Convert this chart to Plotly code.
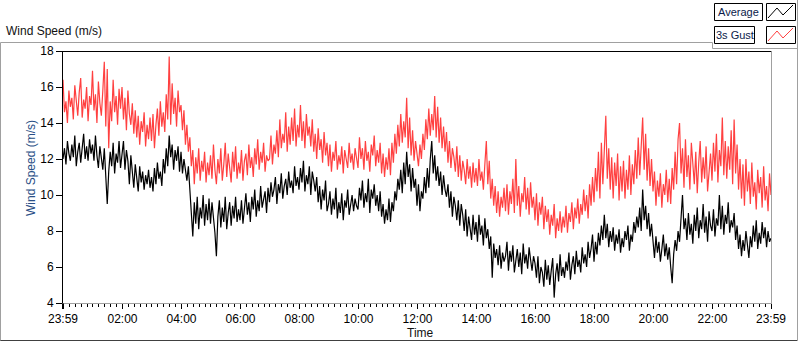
import plotly.graph_objects as go

# ---------------- data (3-minute samples) ----------------
step_minutes = 3
average = [
    12.0, 12.6, 11.7, 13.0, 12.3, 11.9, 12.8, 12.1, 13.3, 11.6, 12.4, 12.9, 11.8, 12.5, 13.4, 12.0, 12.7, 11.9, 13.1, 12.3,
    12.8, 11.9, 13.3, 12.2, 11.5, 12.7, 12.0, 11.4, 12.6, 11.1, 9.5, 11.3, 12.4, 11.6, 12.9, 11.2, 12.3, 11.8, 13.0, 11.5,
    12.2, 13.0, 11.4, 12.5, 11.9, 10.6, 12.2, 11.0, 10.4, 11.7, 10.9, 10.2, 11.6, 10.7, 11.3, 10.3, 11.1, 10.6, 11.4, 10.4,
    11.0, 10.2, 11.5, 10.6, 11.8, 10.9, 11.3, 10.5, 12.0, 11.2, 12.6, 11.6, 13.3, 12.1, 12.8, 11.4, 12.5, 11.9, 12.7, 11.3,
    12.4, 11.2, 12.0, 11.5, 10.8, 11.6, 10.1, 9.2, 7.7, 9.6, 8.4, 9.9, 8.1, 9.3, 8.7, 10.0, 8.3, 9.5, 8.6, 9.8,
    8.4, 9.6, 8.9, 7.9, 6.6, 8.8, 9.7, 8.2, 9.3, 8.5, 9.9, 8.1, 9.0, 9.6, 8.3, 9.4, 8.7, 9.9, 8.5, 9.2,
    8.6, 9.7, 8.4, 9.3, 10.1, 8.9, 9.6, 8.5, 9.9, 9.2, 10.3, 8.8, 9.7, 9.1, 10.5, 9.3, 9.8, 10.2, 9.0, 10.4,
    9.6, 10.7, 9.9, 10.3, 11.0, 9.5, 10.6, 10.1, 11.2, 9.8, 10.5, 10.9, 10.0, 11.3, 10.4, 10.8, 10.1, 11.6, 10.5, 11.0,
    10.3, 11.5, 10.7, 11.9, 10.2, 11.1, 10.6, 11.6, 10.0, 11.3, 10.8, 10.2, 11.0, 9.6, 10.5, 9.2, 10.3, 9.7, 10.8, 9.1,
    9.5, 10.2, 8.9, 9.8, 9.2, 10.4, 8.7, 9.6, 9.0, 10.1, 8.6, 9.7, 9.3, 10.3, 8.9, 9.5, 10.0, 9.1, 9.8, 9.4,
    9.2, 10.4, 9.7, 10.8, 9.3, 10.1, 9.6, 10.9, 9.0, 10.3, 9.8, 10.6, 9.4, 10.0, 9.1, 10.2, 8.8, 9.5, 8.4, 9.2,
    8.6, 9.8, 8.5, 9.6, 9.1, 10.2, 9.7, 10.9, 10.3, 11.4, 10.1, 11.8, 10.6, 12.4, 11.0, 11.7, 10.2, 11.5, 10.4, 10.9,
    9.4, 10.6, 9.1, 10.2, 9.8, 11.0, 10.1, 11.5, 10.4, 12.0, 13.0, 11.2, 12.2, 10.8, 11.6, 10.5, 11.3, 10.0, 11.1, 10.3,
    9.9, 10.6, 9.3, 10.2, 8.8, 9.9, 9.4, 8.6, 9.7, 8.3, 9.5, 8.9, 8.0, 9.2, 7.7, 8.8, 8.2, 7.5, 8.9, 7.8,
    8.5, 7.4, 8.9, 7.8, 8.3, 7.2, 8.7, 7.6, 8.1, 7.0, 7.7, 5.4, 7.3, 6.5, 7.0, 6.1, 7.2, 5.9, 6.8, 6.3,
    6.6, 7.4, 5.8, 6.9, 6.3, 7.2, 5.7, 6.5, 7.0, 6.0, 6.8, 5.6, 7.3, 6.2, 6.7, 5.9, 7.1, 6.4, 5.8, 6.6,
    6.2, 5.4, 6.6, 5.1, 6.0, 5.7, 4.9, 6.4, 5.3, 6.1, 5.0, 5.8, 6.5, 4.3, 5.6, 6.2, 5.2, 6.7, 5.5, 6.0,
    5.4, 6.3, 5.8, 6.8, 5.3, 6.1, 6.6, 5.6, 6.9, 6.0, 6.4, 5.7, 7.1, 6.2, 6.7, 6.0, 7.4, 6.5, 7.0, 7.8,
    6.3, 7.4, 6.7, 7.9, 7.2, 8.3, 7.5, 8.9, 7.6, 8.4, 7.1, 8.0, 7.4, 8.2, 6.9, 7.8, 7.3, 8.1, 6.8, 7.6,
    7.1, 8.0, 7.5, 8.3, 6.9, 7.8, 7.4, 8.5, 7.9, 8.8, 8.2, 9.3, 8.0, 10.3, 8.6, 9.4, 8.1, 9.0, 7.7, 8.4,
    7.2, 6.5, 7.7, 6.8, 7.4, 6.3, 7.0, 7.8, 6.6, 7.3, 6.4, 7.1, 6.0, 5.1, 6.7, 7.5, 6.9, 8.0, 7.4, 8.6,
    10.0, 8.1, 8.7, 7.5, 9.0, 7.8, 8.4, 7.3, 8.9, 8.0, 9.3, 7.6, 8.6, 8.1, 9.5, 7.9, 8.8, 7.4, 9.1, 8.3,
    8.0, 9.2, 7.7, 8.7, 8.3, 10.0, 8.1, 9.4, 7.8, 8.9, 8.4, 9.6, 7.9, 8.6, 8.2, 9.0, 7.5, 8.3, 7.0, 7.8,
    6.6, 7.5, 6.9, 8.0, 7.2, 6.5, 7.7, 7.1, 8.3, 7.4, 8.6, 7.0, 7.9, 7.3, 8.5, 7.6, 8.2, 7.1, 8.0, 7.4,
    7.6,
]
gust_3s = [
    16.4, 14.6, 15.2, 14.0, 15.8, 14.9, 15.4, 14.2, 16.1, 15.0, 14.4, 15.7, 16.5, 14.3, 15.3, 14.8, 16.0, 14.1, 15.5, 15.0,
    16.9, 14.7, 15.6, 14.0, 16.3, 15.1, 14.4, 15.8, 17.4, 13.8, 17.0, 12.6, 15.2, 14.1, 16.4, 14.6, 15.5, 13.9, 15.9, 14.8,
    16.0, 14.2, 15.4, 13.6, 15.8, 14.5, 13.9, 15.1, 13.4, 14.7, 13.2, 14.4, 12.8, 14.1, 13.5, 14.6, 12.7, 13.9, 13.1, 14.3,
    13.0, 14.5, 12.6, 13.9, 14.8, 13.3, 15.2, 13.8, 14.6, 13.5, 15.6, 14.2, 17.7, 13.9, 16.2, 14.5, 15.4, 13.8, 15.8, 14.6,
    15.0, 13.6, 14.7, 12.8, 13.9, 12.4, 13.2, 11.6, 12.5, 10.6, 12.1, 11.2, 12.6, 10.8, 11.9, 11.3, 12.4, 10.7, 11.8, 11.1,
    12.2, 10.9, 12.8, 11.4, 10.6, 12.0, 11.2, 12.6, 10.8, 11.7, 12.9, 11.0, 12.3, 11.5, 10.7, 12.4, 11.3, 12.7, 10.9, 11.8,
    11.2, 12.5, 10.8, 11.9, 12.3, 11.1, 12.8, 11.5, 12.1, 11.0, 12.6, 11.7, 13.1, 11.4, 12.4, 11.8, 12.9, 11.3, 12.2, 11.9,
    12.0, 13.3, 11.7, 12.8, 12.3, 13.6, 12.1, 14.2, 12.6, 13.4, 12.9, 14.6, 12.4, 13.8, 12.8, 14.3, 13.0, 14.8, 12.7, 13.9,
    13.2, 15.0, 13.0, 14.1, 12.6, 14.5, 13.3, 13.8, 12.7, 14.2, 12.4, 13.4, 12.0, 13.7, 12.5, 13.1, 11.8, 13.5, 12.2, 12.9,
    11.6, 12.8, 11.3, 12.4, 11.9, 13.0, 11.4, 12.2, 11.7, 12.7, 11.2, 12.5, 12.0, 11.5, 12.9, 11.8, 12.3, 11.4, 12.6, 11.9,
    11.5, 13.2, 12.0, 12.6, 11.4, 13.0, 11.9, 12.4, 11.3, 12.8, 12.2, 13.3, 11.6, 12.5, 11.8, 12.9, 11.2, 12.3, 11.0, 12.1,
    11.4, 12.6, 11.1, 12.9, 11.8, 13.4, 12.3, 13.9, 12.7, 14.5, 12.9, 14.1, 13.2, 15.4, 12.6, 14.3, 12.2, 13.6, 11.9, 13.0,
    12.1, 11.6, 12.8, 12.0, 13.4, 12.5, 14.2, 13.1, 14.8, 13.3, 14.5, 13.6, 15.5, 13.2, 14.9, 12.9, 14.3, 12.6, 13.8, 12.4,
    13.5, 11.8, 13.0, 11.5, 12.6, 12.1, 11.3, 12.7, 11.0, 12.2, 10.8, 11.9, 11.4, 10.6, 12.0, 10.9, 11.6, 10.4, 11.8, 10.7,
    11.5, 10.5, 12.0, 10.8, 11.3, 10.3, 11.7, 13.0, 10.6, 11.9, 9.8, 10.9, 9.4, 10.5, 9.0, 10.2, 8.8, 9.9, 9.3, 10.4,
    9.1, 10.6, 8.9, 10.2, 9.5, 10.9, 9.0, 12.0, 9.4, 10.5, 8.8, 10.1, 9.6, 11.0, 9.2, 10.4, 8.9, 10.7, 9.3, 9.9,
    8.6, 10.1, 8.3, 9.6, 8.9, 9.9, 8.1, 9.4, 8.5, 9.2, 7.8, 8.9, 8.3, 9.5, 7.6, 8.7, 8.0, 9.1, 7.9, 8.8,
    8.2, 9.4, 7.9, 9.0, 8.5, 9.6, 8.1, 9.3, 8.7, 9.8, 8.4, 9.5, 8.9, 10.3, 9.1, 10.0, 8.7, 10.6, 9.4, 11.0,
    9.6, 11.5, 10.2, 12.4, 9.8, 12.9, 10.6, 13.1, 14.4, 10.9, 12.6, 10.3, 12.1, 9.8, 11.8, 10.5, 12.3, 9.7, 11.6, 10.2,
    11.9, 9.8, 11.4, 10.3, 12.2, 10.0, 11.7, 10.6, 12.5, 10.9, 13.2, 11.1, 12.7, 14.3, 11.4, 13.4, 10.8, 12.6, 10.5, 12.0,
    10.2, 11.3, 9.4, 10.8, 9.9, 11.2, 9.3, 10.6, 10.0, 11.4, 9.6, 10.9, 9.5, 11.5, 10.3, 12.4, 10.6, 13.1, 14.0, 11.2,
    12.6, 10.4, 13.1, 11.0, 12.2, 10.3, 12.9, 11.5, 10.6, 12.4, 10.1, 11.8, 13.0, 10.7, 12.1, 10.9, 12.7, 10.2, 11.6, 12.3,
    10.8, 12.9, 11.3, 13.4, 10.7, 12.5, 11.6, 14.3, 11.1, 13.0, 10.9, 12.7, 11.4, 13.6, 10.6, 14.2, 11.2, 12.8, 10.3, 12.0,
    9.8, 11.7, 9.4, 12.0, 10.2, 11.3, 9.5, 11.8, 9.9, 10.7, 9.2, 11.4, 10.1, 11.0, 9.3, 11.6, 9.7, 10.5, 9.1, 11.2,
    10.0,
]
assert len(average) == len(gust_3s) == 481, (len(average), len(gust_3s))
minutes = [i * step_minutes for i in range(len(average))]

tick_minutes = [0, 121, 241, 361, 481, 601, 721, 841, 961, 1081, 1201, 1321, 1440]
tick_labels = ["23:59", "02:00", "04:00", "06:00", "08:00", "10:00", "12:00",
               "14:00", "16:00", "18:00", "20:00", "22:00", "23:59"]
y_ticks = [4, 6, 8, 10, 12, 14, 16, 18]
series_names = ["Average", "3s Gust"]

# ---------------- layout helpers (pixel -> paper) ----------------
L, T, W, H = 63, 51, 708, 252
def px(x):
    return (x - L) / W
def py(y):
    return (T + H - y) / H

FONT = "Liberation Sans"
RED = "#ff4040"

fig = go.Figure()
fig.add_trace(go.Scatter(x=minutes, y=gust_3s, mode="lines", name=series_names[1],
                         line=dict(color=RED, width=1.2)))
fig.add_trace(go.Scatter(x=minutes, y=average, mode="lines", name=series_names[0],
                         line=dict(color="#000000", width=1.2)))

shapes = []
def seg(x0, y0, x1, y1, color, width=1):
    shapes.append(dict(type="line", xref="paper", yref="paper",
                       x0=px(x0), y0=py(y0), x1=px(x1), y1=py(y1),
                       line=dict(color=color, width=width), layer="above"))

# outer frame
seg(0.5, 42.5, 712.5, 42.5, "#a0a0a0")
seg(0.5, 42.5, 0.5, 341, "#a0a0a0")
seg(0.5, 340.5, 797.5, 340.5, "#404040")
seg(797.5, 0, 797.5, 341, "#a0a0a0")
seg(712.5, 48.5, 797.5, 48.5, "#a0a0a0")
seg(712.5, 42.5, 712.5, 48.5, "#a0a0a0")
# plot frame (sunken look)
seg(62, 51.5, 771.5, 51.5, "#000000")
seg(62.5, 51.5, 62.5, 303.5, "#000000")
seg(62.5, 303.5, 772, 303.5, "#a0a0a0")
seg(771.5, 51.5, 771.5, 303.5, "#a0a0a0")
seg(63, 303.5, 63, 309, "#000000", 2)

# legend boxes
def box(x0, y0, x1, y1):
    shapes.append(dict(type="rect", xref="paper", yref="paper",
                       x0=px(x0), y0=py(y1), x1=px(x1), y1=py(y0),
                       line=dict(color="#000000", width=1), fillcolor="white", layer="above"))
box(714.5, 3.5, 762.5, 20.5)
box(766.5, 3.5, 795.5, 20.5)
box(714.5, 26.5, 754.5, 43.5)
box(766.5, 26.5, 795.5, 43.5)

def zig(dy, color):
    pts = [(768, 18 + dy), (777, 8 + dy), (783, 15 + dy), (793, 5 + dy)]
    path = "M " + " L ".join(f"{px(a)},{py(b)}" for a, b in pts)
    shapes.append(dict(type="path", xref="paper", yref="paper", path=path,
                       line=dict(color=color, width=1), layer="above"))
zig(0, "#000000")
zig(23, RED)

annotations = [
    dict(text="Wind Speed (m/s)", x=px(4), y=py(31), xanchor="left", yanchor="middle",
         font=dict(family=FONT, size=12, color="#111111")),
    dict(text="Wind Speed (m/s)", x=px(31), y=py(168), xanchor="center", yanchor="middle",
         textangle=-90, font=dict(family=FONT, size=12, color="#2a4f86")),
    dict(text="Time", x=px(405), y=py(333), xanchor="left", yanchor="middle",
         font=dict(family=FONT, size=12, color="#111111")),
    dict(text=series_names[0], x=px(738.5), y=py(12), xanchor="center", yanchor="middle",
         font=dict(family=FONT, size=11, color="#0a1a4a")),
    dict(text=series_names[1], x=px(734.5), y=py(35), xanchor="center", yanchor="middle",
         font=dict(family=FONT, size=11, color="#0a1a4a")),
]
for a in annotations:
    a.update(xref="paper", yref="paper", showarrow=False)

fig.update_layout(
    width=800, height=342,
    margin=dict(l=L, r=800 - L - W, t=T, b=342 - T - H, pad=0),
    paper_bgcolor="white", plot_bgcolor="white",
    showlegend=False, hovermode=False,
    shapes=shapes, annotations=annotations,
    font=dict(family=FONT, size=12, color="#000000"),
)
fig.update_xaxes(
    range=[0, 1440], tickmode="array", tickvals=tick_minutes, ticktext=tick_labels,
    showgrid=False, zeroline=False, showline=False,
    ticks="outside", ticklen=5, tickcolor="#000000", tickwidth=1,
    tickfont=dict(family=FONT, size=12, color="#000000"),
    minor=dict(tick0=1, dtick=12, ticks="outside", ticklen=3, tickcolor="#000000", tickwidth=1),
)
fig.update_yaxes(
    range=[4, 18], tickmode="array", tickvals=y_ticks,
    showgrid=False, zeroline=False, showline=False,
    ticks="outside", ticklen=6, tickcolor="#000000", tickwidth=1,
    tickfont=dict(family=FONT, size=12, color="#000000"),
)

fig.write_html("out.html", config={"displayModeBar": False},
               post_script="document.body.style.margin='0';")
